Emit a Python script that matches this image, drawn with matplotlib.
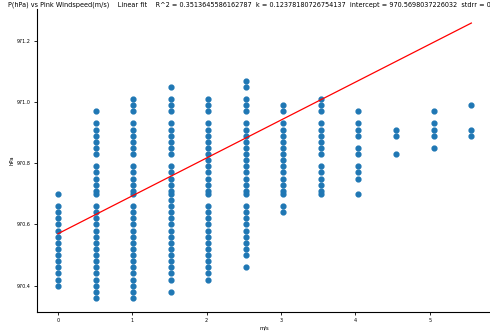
import numpy as np
import matplotlib
matplotlib.use("Agg")
import matplotlib.pyplot as plt

# wind speed classes (m/s) and the pressures (hPa) logged at each of them
wind_speeds = [0.0, 0.51, 1.01, 1.52, 2.02, 2.53, 3.03, 3.54, 4.04, 4.55, 5.06, 5.56]

p_w00 = [970.70, 970.66, 970.64, 970.62, 970.60, 970.58, 970.56, 970.54,
         970.52, 970.50, 970.48, 970.46, 970.44, 970.42, 970.40]
p_w05 = [970.97, 970.93, 970.91, 970.89, 970.87, 970.85, 970.83, 970.79,
         970.77, 970.75, 970.73, 970.71, 970.70, 970.66, 970.64, 970.62,
         970.60, 970.58, 970.56, 970.54, 970.52, 970.50, 970.48, 970.46,
         970.44, 970.42, 970.40, 970.38, 970.36]
p_w10 = [971.01, 970.99, 970.97, 970.93, 970.91, 970.89, 970.87, 970.85,
         970.83, 970.79, 970.77, 970.75, 970.73, 970.71, 970.70, 970.66,
         970.64, 970.62, 970.60, 970.58, 970.56, 970.54, 970.52, 970.50,
         970.48, 970.46, 970.44, 970.42, 970.40, 970.38, 970.36]
p_w15 = [971.05, 971.01, 970.99, 970.97, 970.93, 970.91, 970.89, 970.87,
         970.85, 970.83, 970.79, 970.77, 970.75, 970.73, 970.71, 970.70,
         970.68, 970.66, 970.64, 970.62, 970.60, 970.58, 970.56, 970.54,
         970.52, 970.50, 970.48, 970.46, 970.44, 970.42, 970.38]
p_w20 = [971.01, 970.99, 970.97, 970.93, 970.91, 970.89, 970.87, 970.85,
         970.83, 970.81, 970.79, 970.77, 970.75, 970.73, 970.71, 970.70,
         970.66, 970.64, 970.62, 970.60, 970.58, 970.56, 970.54, 970.52,
         970.50, 970.48, 970.46, 970.44, 970.42]
p_w25 = [971.07, 971.05, 971.01, 970.99, 970.97, 970.93, 970.91, 970.89,
         970.87, 970.85, 970.83, 970.81, 970.79, 970.77, 970.75, 970.73,
         970.71, 970.70, 970.66, 970.64, 970.62, 970.60, 970.58, 970.56,
         970.54, 970.52, 970.50, 970.46]
p_w30 = [970.99, 970.97, 970.93, 970.91, 970.89, 970.87, 970.85, 970.83,
         970.81, 970.79, 970.77, 970.75, 970.73, 970.71, 970.70, 970.66,
         970.64]
p_w35 = [971.01, 970.99, 970.97, 970.93, 970.91, 970.89, 970.87, 970.85,
         970.83, 970.79, 970.77, 970.75, 970.73, 970.71, 970.70]
p_w40 = [970.97, 970.93, 970.91, 970.89, 970.85, 970.83, 970.79, 970.77,
         970.75, 970.70]
p_w45 = [970.91, 970.89, 970.83]
p_w50 = [970.97, 970.93, 970.91, 970.89, 970.85]
p_w55 = [970.99, 970.91, 970.89]

# fit results printed in the title
r_squared = 0.3513645586162787
slope = 0.12378180726754137
intercept = 970.5698037226032
stderr = 0

columns = [p_w00, p_w05, p_w10, p_w15, p_w20, p_w25,
           p_w30, p_w35, p_w40, p_w45, p_w50, p_w55]
x = np.concatenate([[ws] * len(col) for ws, col in zip(wind_speeds, columns)])
y = np.concatenate(columns)

fig = plt.figure(figsize=(4.9, 3.31), dpi=100)
ax = fig.add_axes([0.0761, 0.0583, 0.928, 0.9136])

ax.scatter(x, y, s=12, color="#1f77b4", zorder=2)
fit_x = np.array([x.min(), x.max()])
ax.plot(fit_x, intercept + slope * fit_x, color="red", lw=0.9, zorder=3)

ax.spines["top"].set_visible(False)
ax.spines["right"].set_visible(False)
for side in ("left", "bottom"):
    ax.spines[side].set_linewidth(0.8)

ax.set_xticks([0, 1, 2, 3, 4, 5])
ax.set_yticks([970.4, 970.6, 970.8, 971.0, 971.2])
ax.yaxis.set_major_formatter(matplotlib.ticker.FormatStrFormatter("%.1f"))
ax.tick_params(labelsize=3.5, length=2.5, width=0.6, pad=2)
ax.set_xlabel("m/s", fontsize=3.8, labelpad=1.5)
ax.set_ylabel("hPa", fontsize=3.8, labelpad=2)

title = ("P(hPa) vs Pink Windspeed(m/s)    Linear fit    "
         f"R^2 = {r_squared}  k = {slope}  intercept = {intercept}  stdrr = {stderr}")
fig.text(8 / 490, 1 - 5 / 331, title, fontsize=4.7, ha="left", va="center")

fig.savefig("out.png", dpi=100)
